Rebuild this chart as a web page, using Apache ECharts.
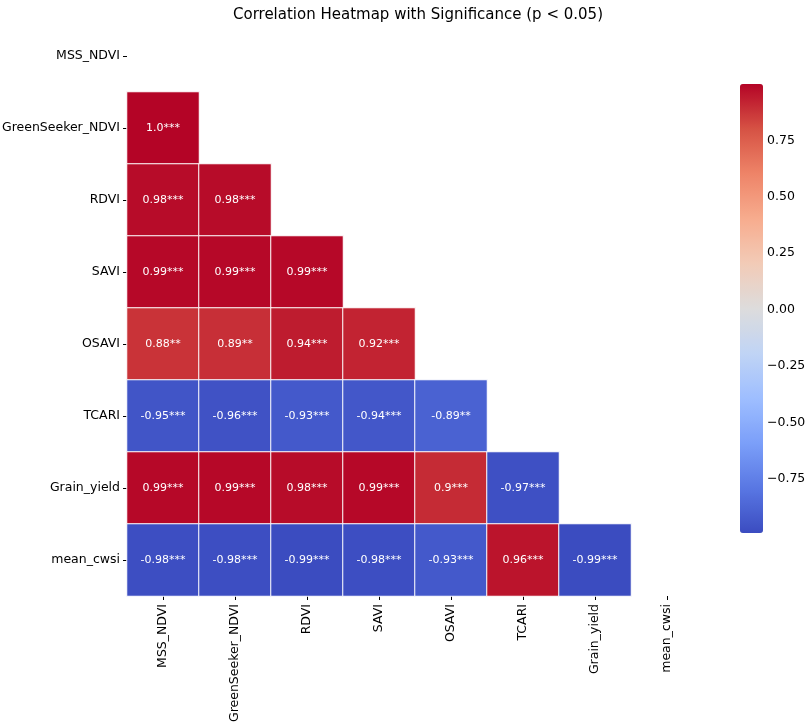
<!DOCTYPE html>
<html>
<head>
<meta charset="utf-8">
<script src="https://cdn.jsdelivr.net/npm/echarts@6/dist/echarts.min.js"></script>
<style>html,body{margin:0;padding:0;background:#fff;}#c{width:809px;height:724px;}</style>
</head>
<body>
<div id="c"></div>
<script>
const variables = ['MSS_NDVI','GreenSeeker_NDVI','RDVI','SAVI','OSAVI','TCARI','Grain_yield','mean_cwsi'];
// lower-triangle rows (row i has i values, for columns 0..i-1)
const rowGreenSeeker = [1.0];
const rowRDVI = [0.98, 0.98];
const rowSAVI = [0.99, 0.99, 0.99];
const rowOSAVI = [0.88, 0.89, 0.94, 0.92];
const rowTCARI = [-0.95, -0.96, -0.93, -0.94, -0.89];
const rowGrain = [0.99, 0.99, 0.98, 0.99, 0.9, -0.97];
const rowCwsi = [-0.98, -0.98, -0.99, -0.98, -0.93, 0.96, -0.99];
const starsGreenSeeker = ['***'];
const starsRDVI = ['***','***'];
const starsSAVI = ['***','***','***'];
const starsOSAVI = ['**','**','***','***'];
const starsTCARI = ['***','***','***','***','**'];
const starsGrain = ['***','***','***','***','***','***'];
const starsCwsi = ['***','***','***','***','***','***','***'];
const colorbarTicks = [-0.75,-0.5,-0.25,0,0.25,0.5,0.75];
const colorMin = -0.99, colorMax = 1.0;

const rows = [[], rowGreenSeeker, rowRDVI, rowSAVI, rowOSAVI, rowTCARI, rowGrain, rowCwsi];
const stars = [[], starsGreenSeeker, starsRDVI, starsSAVI, starsOSAVI, starsTCARI, starsGrain, starsCwsi];
const data = [];
rows.forEach((r, i) => r.forEach((v, j) => data.push({value:[j, i, v], star: stars[i][j]})));

const coolwarm = ['#3b4cc0','#5977e3','#7b9ff9','#9ebeff','#c0d4f5','#dddcdc','#f2cbb7','#f7ac8e','#ee8468','#d65244','#b40426'];
const font = 'DejaVu Sans';
function fmtNum(v){ return (Math.round(v*100)%100===0) ? v.toFixed(1) : String(v); }
function fmtTick(v){ const s = Math.abs(v).toFixed(2); return v < -1e-9 ? '\u2212' + s : s; }

const chart = echarts.init(document.getElementById('c'));
chart.setOption({
  backgroundColor:'#fff',
  animation:false,
  title:{text:'Correlation Heatmap with Significance (p < 0.05)', left:228, top:3,
    textStyle:{fontFamily:font, fontSize:15, fontWeight:'normal', color:'#000'}},
  grid:[
    {left:127, top:20, width:576, height:576, outerBoundsMode:'none', containLabel:false},
    {left:740, top:84, width:23, height:449, outerBoundsMode:'none', containLabel:false}
  ],
  xAxis:[
    {type:'category', data:variables, gridIndex:0, position:'bottom',
     axisLine:{show:false}, splitLine:{show:false},
     axisTick:{show:true, alignWithLabel:true, length:4, lineStyle:{color:'#000', width:1}},
     axisLabel:{rotate:90, fontFamily:font, fontSize:12.5, color:'#000', margin:8}},
    {type:'value', gridIndex:1, show:false, min:0, max:1}
  ],
  yAxis:[
    {type:'category', data:variables, inverse:true, gridIndex:0,
     axisLine:{show:false}, splitLine:{show:false},
     axisTick:{show:true, alignWithLabel:true, length:4, lineStyle:{color:'#000', width:1}},
     axisLabel:{fontFamily:font, fontSize:12.5, color:'#000', margin:7}},
    {type:'value', gridIndex:1, position:'right', min:colorMin, max:colorMax,
     axisLine:{show:false}, splitLine:{show:false},
     axisTick:{show:true, length:4, customValues:colorbarTicks, lineStyle:{color:'#000'}},
     axisLabel:{customValues:colorbarTicks, formatter:fmtTick, fontFamily:font, fontSize:12.5, color:'#000', margin:4}}
  ],
  visualMap:{type:'continuous', min:colorMin, max:colorMax, seriesIndex:0, calculable:false,
    show:true, orient:'vertical', left:735, top:79, itemWidth:23, itemHeight:449, text:['',''],
    showLabel:false, inRange:{color:coolwarm}, padding:5},
  series:[
    {type:'heatmap', xAxisIndex:0, yAxisIndex:0, data:data,
     itemStyle:{borderColor:'#fff', borderWidth:1},
     label:{show:true, color:'#fff', fontFamily:font, fontSize:11,
       formatter:p => fmtNum(p.value[2]) + p.data.star},
     emphasis:{disabled:true}},
    {type:'scatter', xAxisIndex:1, yAxisIndex:1, data:[], silent:true}
  ]
});
</script>
</body>
</html>
